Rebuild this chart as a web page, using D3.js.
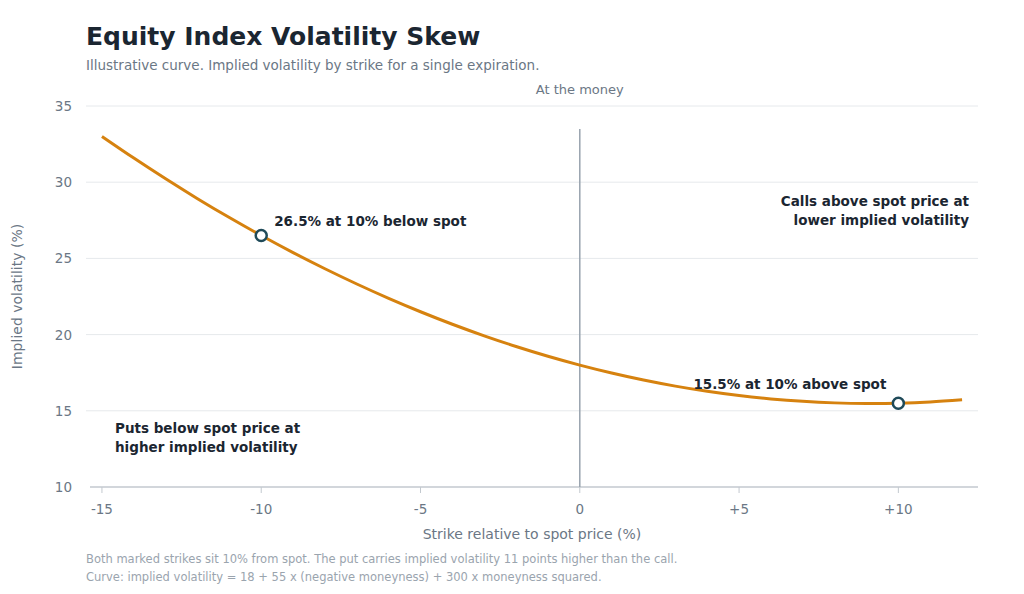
<!DOCTYPE html>
<html>
<head>
<meta charset="utf-8">
<script src="https://cdn.jsdelivr.net/npm/d3@7"></script>
<style>
  body { margin: 0; background: #fff; font-family: "DejaVu Sans", sans-serif; }
</style>
</head>
<body>
<div id="chart"></div>
<script>
// strike relative to spot (%) and implied vol (%)
const strikes = [-15, -14, -13, -12, -11, -10, -9, -8, -7, -6, -5, -4, -3, -2, -1, 0, 1, 2, 3, 4, 5, 6, 7, 8, 9, 10, 11, 12];
const vols = [33, 31.58, 30.22, 28.92, 27.68, 26.5, 25.38, 24.32, 23.32, 22.38, 21.5, 20.68, 19.92, 19.22, 18.58, 18,
  17.48, 17.02, 16.62, 16.28, 16, 15.78, 15.62, 15.52, 15.48, 15.5, 15.58, 15.72];
const xTicks = [-15, -10, -5, 0, 5, 10];
const xTickLabels = ['-15', '-10', '-5', '0', '+5', '+10'];
const yTicks = [10, 15, 20, 25, 30, 35];
const marked = [
  { strike: -10, vol: 26.5, label: '26.5% at 10% below spot' },
  { strike: 10, vol: 15.5, label: '15.5% at 10% above spot' }
];

const width = 1024, height = 594;
const svg = d3.select('#chart').append('svg').attr('width', width).attr('height', height);

const x = d3.scaleLinear().domain([-15.375, 12.5]).range([90, 978]);
const y = d3.scaleLinear().domain([10, 35]).range([487, 106]);

const ink = '#1b2631', grey = '#6b7785', orange = '#d6820f';

svg.append('text').attr('x', 86).attr('y', 45).attr('font-size', 25).attr('font-weight', 'bold')
  .attr('fill', ink).text('Equity Index Volatility Skew');
svg.append('text').attr('x', 86).attr('y', 70).attr('font-size', 13.5).attr('fill', grey)
  .text('Illustrative curve. Implied volatility by strike for a single expiration.');

// gridlines + y labels
yTicks.forEach(t => {
  if (t > 10) {
    svg.append('line').attr('x1', 86).attr('x2', 978).attr('y1', y(t)).attr('y2', y(t))
      .attr('stroke', '#e6e9ec').attr('stroke-width', 1);
  }
  svg.append('text').attr('x', 72).attr('y', y(t) + 5).attr('text-anchor', 'end')
    .attr('font-size', 13.5).attr('fill', grey).text(t);
});

// x axis
svg.append('line').attr('x1', 90).attr('x2', 978).attr('y1', 487).attr('y2', 487)
  .attr('stroke', '#c3c9cf').attr('stroke-width', 1.5);
xTicks.forEach((t, i) => {
  svg.append('line').attr('x1', x(t)).attr('x2', x(t)).attr('y1', 487).attr('y2', 493)
    .attr('stroke', '#c3c9cf');
  svg.append('text').attr('x', x(t)).attr('y', 514).attr('text-anchor', 'middle')
    .attr('font-size', 13.5).attr('fill', grey).text(xTickLabels[i]);
});

svg.append('text').attr('x', x(-1.5)).attr('y', 539).attr('text-anchor', 'middle')
  .attr('font-size', 14).attr('fill', grey).text('Strike relative to spot price (%)');
svg.append('text').attr('transform', `translate(22,${y(22.5)}) rotate(-90)`).attr('text-anchor', 'middle')
  .attr('font-size', 14).attr('fill', grey).text('Implied volatility (%)');

// ATM line
svg.append('line').attr('x1', x(0)).attr('x2', x(0)).attr('y1', 129).attr('y2', 487)
  .attr('stroke', '#98a3ae').attr('stroke-width', 1.5);
svg.append('text').attr('x', x(0)).attr('y', 94).attr('text-anchor', 'middle')
  .attr('font-size', 13).attr('fill', grey).text('At the money');

// curve
const pts = strikes.map((s, i) => [s, vols[i]]);
svg.append('path').datum(pts)
  .attr('d', d3.line().x(d => x(d[0])).y(d => y(d[1])).curve(d3.curveNatural))
  .attr('fill', 'none').attr('stroke', orange).attr('stroke-width', 3);

svg.selectAll('.pt').data(marked).enter().append('circle')
  .attr('cx', d => x(d.strike)).attr('cy', d => y(d.vol)).attr('r', 5.5)
  .attr('fill', '#fff').attr('stroke', '#1f4a59').attr('stroke-width', 2.5);

svg.append('text').attr('x', x(-10) + 13).attr('y', y(26.5) - 10).attr('font-size', 13.5)
  .attr('font-weight', 'bold').attr('fill', ink).text(marked[0].label);
svg.append('text').attr('x', x(10) - 12).attr('y', y(15.5) - 14).attr('text-anchor', 'end').attr('font-size', 13.5)
  .attr('font-weight', 'bold').attr('fill', ink).text(marked[1].label);

const note = (lines, xx, yy, anchor) => {
  lines.forEach((l, i) => svg.append('text').attr('x', xx).attr('y', yy + i * 19)
    .attr('text-anchor', anchor).attr('font-size', 13.5).attr('font-weight', 'bold')
    .attr('fill', ink).text(l));
};
note(['Calls above spot price at', 'lower implied volatility'], 969, 206, 'end');
note(['Puts below spot price at', 'higher implied volatility'], 115, 433, 'start');

svg.append('text').attr('x', 86).attr('y', 563).attr('font-size', 11.5).attr('fill', '#9aa4ae')
  .text('Both marked strikes sit 10% from spot. The put carries implied volatility 11 points higher than the call.');
svg.append('text').attr('x', 86).attr('y', 581).attr('font-size', 11.5).attr('fill', '#9aa4ae')
  .text('Curve: implied volatility = 18 + 55 x (negative moneyness) + 300 x moneyness squared.');
</script>
</body>
</html>
